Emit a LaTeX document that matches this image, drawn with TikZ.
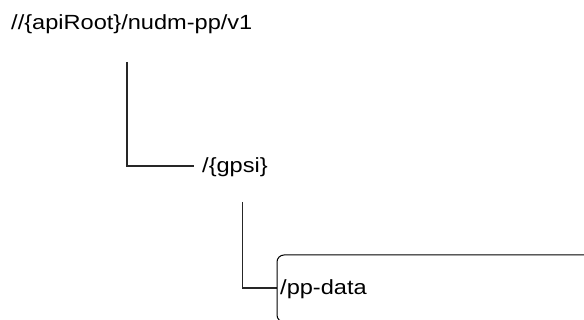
\documentclass[tikz,border=0pt]{standalone}
\usepackage{fontspec}
\usepackage{graphicx}
\setmainfont{Liberation Sans}
\begin{document}
\begin{tikzpicture}[x=1pt,y=-1pt,
  lbl/.style={inner sep=0pt,anchor=base west,font=\fontsize{20.5}{23}\selectfont,text=black},
  conn/.style={draw=black!85,line width=1.2pt},
  res/.style={draw=black,line width=1pt,rounded corners=7pt}]
\useasboundingbox (0,0) rectangle (584,320);
\clip (0,0) rectangle (584,320);
\node[lbl] (root) at (11,30) {\scalebox{1.15}[1]{//\{apiRoot\}/nudm-pp/v1}};
\node[lbl] (gpsi) at (202,173) {\scalebox{1.15}[1]{/\{gpsi\}}};
\node[lbl] (pp) at (280,295) {\scalebox{1.15}[1]{/pp-data}};
\coordinate (r1) at (127,62);
\coordinate (g1) at (194,166);
\coordinate (r2) at (242.5,202);
\coordinate (g2) at (277,288);
\draw[conn] (r1) |- (g1);
\draw[conn] (r2) |- (g2);
\draw[res] (277,255) rectangle (610,322);
\end{tikzpicture}
\end{document}
